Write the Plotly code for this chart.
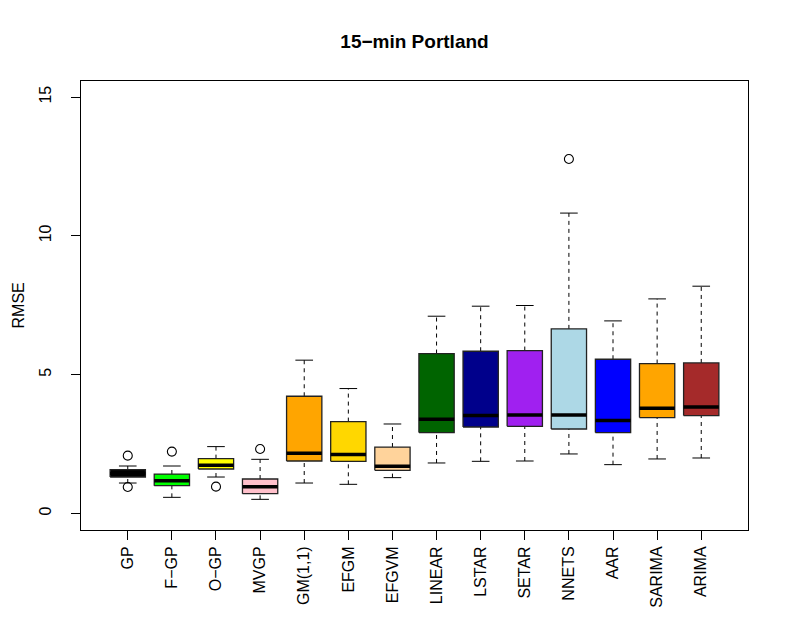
import plotly.graph_objects as go

categories = ["GP", "F\u2212GP", "O\u2212GP", "MVGP", "GM(1,1)", "EFGM", "EFGVM",
              "LINEAR", "LSTAR", "SETAR", "NNETS", "AAR", "SARIMA", "ARIMA"]
lower_whisker = [1.093, 0.577, 1.309, 0.505, 1.093, 1.046, 1.287,
                 1.815, 1.875, 1.886, 2.140, 1.755, 1.960, 1.995]
q1 = [1.309, 0.999, 1.598, 0.710, 1.886, 1.875, 1.551,
      2.910, 3.112, 3.137, 3.040, 2.910, 3.451, 3.523]
median = [1.440, 1.179, 1.731, 0.963, 2.164, 2.117, 1.695,
          3.390, 3.523, 3.545, 3.545, 3.343, 3.786, 3.833]
q3 = [1.576, 1.417, 1.972, 1.237, 4.219, 3.307, 2.390,
      5.759, 5.842, 5.867, 6.647, 5.553, 5.398, 5.420]
upper_whisker = [1.706, 1.706, 2.405, 1.947, 5.520, 4.497, 3.220,
                 7.104, 7.465, 7.490, 10.820, 6.935, 7.728, 8.186]
outlier_group = [1, 1, 2, 3, 4, 11]
outlier_value = [2.080, 0.950, 2.225, 0.963, 2.319, 12.770]
colors = ["#000000", "#00FF00", "#FFFF00", "#FFC0CB", "#FFA500", "#FFD700", "#FFD39B",
          "#006400", "#00008B", "#A020F0", "#ADD8E6", "#0000FF", "#FFA500", "#A52A2A"]

BOX_HALF = 0.4
CAP_HALF = 0.2
FONT = "Liberation Sans, Arial, Helvetica, sans-serif"
PAGE_OFFSET = 8  # default body margin of the html page

fig = go.Figure()

# whiskers (dashed)
wx, wy = [], []
for i in range(len(categories)):
    p = i + 1
    wx += [p, p, None, p, p, None]
    wy += [lower_whisker[i], q1[i], None, q3[i], upper_whisker[i], None]
fig.add_trace(go.Scatter(x=wx, y=wy, mode="lines",
                         line=dict(color="black", width=1, dash="4px,4px"),
                         hoverinfo="skip", showlegend=False))

# caps
cx, cy = [], []
for i in range(len(categories)):
    p = i + 1
    cx += [p - CAP_HALF, p + CAP_HALF, None, p - CAP_HALF, p + CAP_HALF, None]
    cy += [lower_whisker[i], lower_whisker[i], None, upper_whisker[i], upper_whisker[i], None]
fig.add_trace(go.Scatter(x=cx, y=cy, mode="lines",
                         line=dict(color="black", width=1),
                         hoverinfo="skip", showlegend=False))

# boxes
for i, cat in enumerate(categories):
    p = i + 1
    fig.add_trace(go.Scatter(
        x=[p - BOX_HALF, p + BOX_HALF, p + BOX_HALF, p - BOX_HALF, p - BOX_HALF],
        y=[q1[i], q1[i], q3[i], q3[i], q1[i]],
        mode="lines", fill="toself", fillcolor=colors[i],
        line=dict(color="#222222", width=1.3),
        name=cat, hoverinfo="skip", showlegend=False))

# medians
mx, my = [], []
for i in range(len(categories)):
    p = i + 1
    mx += [p - BOX_HALF, p + BOX_HALF, None]
    my += [median[i], median[i], None]
fig.add_trace(go.Scatter(x=mx, y=my, mode="lines",
                         line=dict(color="black", width=3.5),
                         hoverinfo="skip", showlegend=False))

# outliers
fig.add_trace(go.Scatter(x=outlier_group, y=outlier_value, mode="markers",
                         marker=dict(symbol="circle-open", size=9,
                                     color="black", line=dict(width=1.1)),
                         hoverinfo="skip", showlegend=False))

W = 789 - PAGE_OFFSET
H = 630 - PAGE_OFFSET
fig.update_layout(
    width=W, height=H,
    margin=dict(l=81 - PAGE_OFFSET, r=41, t=81 - PAGE_OFFSET, b=100, autoexpand=False),
    plot_bgcolor="white", paper_bgcolor="white",
    font=dict(family=FONT, size=16, color="black"),
    title=dict(text="15\u2212min Portland", x=0.5, xref="paper",
               y=1 - (41 - PAGE_OFFSET) / H, yref="container",
               xanchor="center", yanchor="middle",
               font=dict(family=FONT, size=19, color="black", weight="bold")),
    xaxis=dict(range=[-0.06, 15.06], tickmode="array",
               tickvals=list(range(1, len(categories) + 1)), ticktext=categories,
               tickangle=-90, ticks="outside", ticklen=9, tickcolor="black",
               ticklabelstandoff=0,
               showline=True, mirror=True, linecolor="black", linewidth=1,
               showgrid=False, zeroline=False, tickfont=dict(size=16)),
    yaxis=dict(range=[-0.60, 15.58], tickmode="array", tickvals=[0, 5, 10, 15],
               ticktext=["0", "5", "10", "15"],
               tickangle=-90, ticks="outside", ticklen=9, tickcolor="black",
               ticklabelstandoff=14,
               showline=True, mirror=True, linecolor="black", linewidth=1,
               showgrid=False, zeroline=False, tickfont=dict(size=16)),
    annotations=[dict(text="RMSE", x=(18 - 81) / 667, y=0.5, xref="paper", yref="paper",
                      textangle=-90, showarrow=False, xanchor="center", yanchor="middle",
                      font=dict(family=FONT, size=16, color="black"))],
)

fig.write_html("out.html")
